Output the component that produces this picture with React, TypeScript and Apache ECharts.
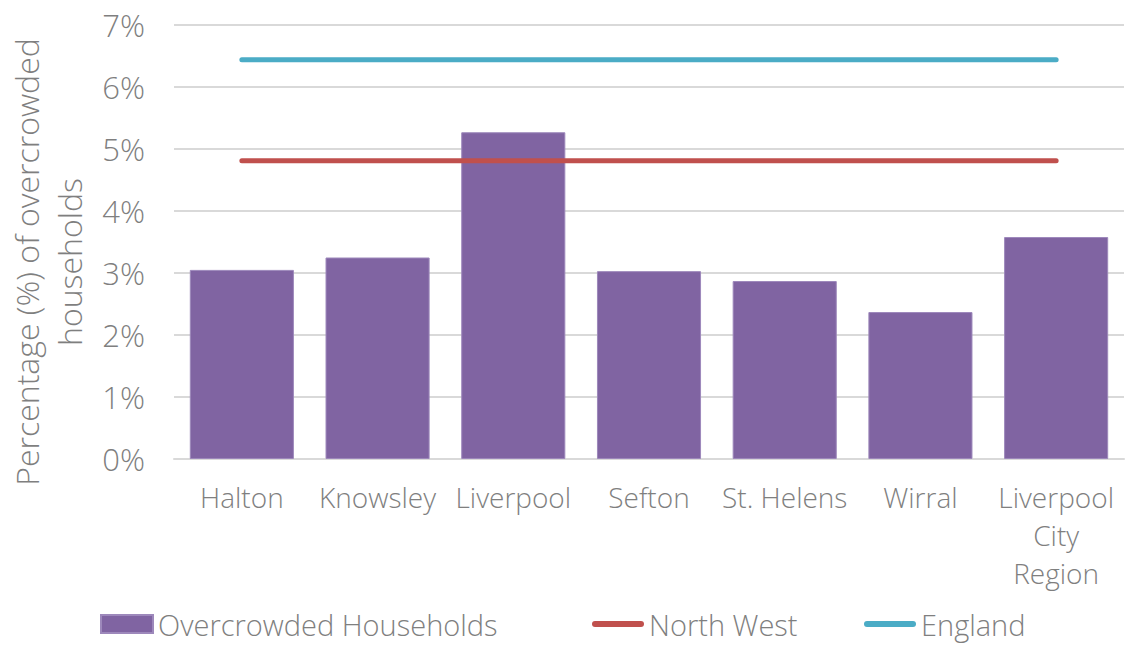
import React, { useEffect, useRef } from "react";
import * as echarts from "echarts";

const categories = ["Halton", "Knowsley", "Liverpool", "Sefton", "St. Helens", "Wirral", "Liverpool\nCity\nRegion"];
const overcrowded = [3.05, 3.25, 5.27, 3.03, 2.87, 2.37, 3.58];
const northWest = [4.81, 4.81, 4.81, 4.81, 4.81, 4.81, 4.81];
const england = [6.44, 6.44, 6.44, 6.44, 6.44, 6.44, 6.44];
const seriesNames = ["Overcrowded Households", "North West", "England"];

const FONT = "Open Sans";
const WEIGHT = 300;
const GREY = "#7f7f7f";
const LINE_ICON = "path://M3,0 L49,0 A3,3 0 0 1 49,6 L3,6 A3,3 0 0 1 3,0 Z";

const legendBase = {
  top: 609,
  padding: 0,
  itemWidth: 52,
  itemHeight: 18,
  textStyle: { fontSize: 29, color: GREY, fontFamily: FONT, fontWeight: WEIGHT, lineHeight: 30 },
};

export default function App() {
  const ref = useRef<HTMLDivElement>(null);
  useEffect(() => {
    if (!ref.current) return;
    const chart = echarts.init(ref.current, undefined, { renderer: "svg" });
    chart.setOption({
      animation: false,
      backgroundColor: "#ffffff",
      textStyle: { fontFamily: FONT, color: GREY, fontWeight: WEIGHT },
      grid: { left: 174, top: 25, right: 3, bottom: 190, outerBoundsMode: "none", containLabel: false },
      legend: [
        { ...legendBase, left: 100, data: [{ name: seriesNames[0], icon: "rect" }] },
        { ...legendBase, left: 592, data: [{ name: seriesNames[1], icon: LINE_ICON }] },
        { ...legendBase, left: 864, data: [{ name: seriesNames[2], icon: LINE_ICON }] },
      ],
      xAxis: {
        type: "category",
        data: categories,
        boundaryGap: true,
        axisLine: { show: true, lineStyle: { color: "#d9d9d9", width: 2 } },
        axisTick: { show: false },
        axisLabel: {
          interval: 0,
          fontSize: 28,
          color: GREY,
          fontFamily: FONT,
          fontWeight: WEIGHT,
          margin: 19,
          lineHeight: 38,
        },
      },
      yAxis: {
        type: "value",
        min: 0,
        max: 7,
        interval: 1,
        name: "Percentage (%) of overcrowded\nhouseholds",
        nameLocation: "middle",
        nameGap: 72,
        nameTextStyle: {
          fontSize: 32,
          color: GREY,
          fontFamily: FONT,
          fontWeight: WEIGHT,
          lineHeight: 43,
          padding: [0, 40, 0, 0],
        },
        axisLine: { show: false },
        axisTick: { show: false },
        axisLabel: {
          formatter: (v: number) => v + "%",
          fontSize: 31,
          color: GREY,
          fontFamily: FONT,
          fontWeight: WEIGHT,
          margin: 29,
        },
        splitLine: { lineStyle: { color: "#d9d9d9", width: 2 } },
      },
      series: [
        {
          name: seriesNames[0],
          type: "bar",
          data: overcrowded,
          barCategoryGap: "23.3%",
          itemStyle: { color: "#8064a2", borderColor: "#9d88bb", borderWidth: 1 },
        },
        {
          name: seriesNames[1],
          type: "line",
          data: northWest,
          symbol: "none",
          itemStyle: { color: "#c0504d" },
          lineStyle: { color: "#c0504d", width: 5, cap: "round" },
        },
        {
          name: seriesNames[2],
          type: "line",
          data: england,
          symbol: "none",
          itemStyle: { color: "#4bacc6" },
          lineStyle: { color: "#4bacc6", width: 5, cap: "round" },
        },
      ],
    });
    return () => chart.dispose();
  }, []);
  return <div ref={ref} style={{ position: "fixed", left: 0, top: 0, width: 1127, height: 649 }} />;
}
